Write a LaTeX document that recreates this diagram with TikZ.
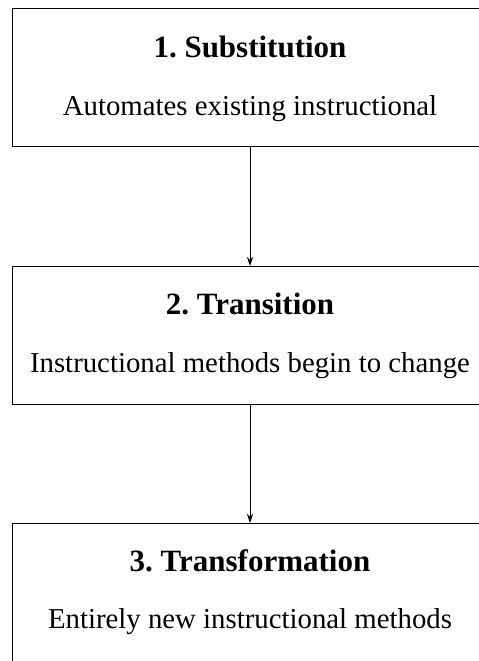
\documentclass[tikz,border=0pt]{standalone}
\usepackage{fontspec}
\setmainfont{Liberation Serif}
\usetikzlibrary{arrows.meta}
\frenchspacing

\tikzset{
  stagebox/.style={draw, line width=0.9pt, anchor=north west, minimum width=520pt, minimum height=138pt, inner sep=0pt},
  stagetitle/.style={anchor=base, inner sep=0pt, font=\fontsize{31}{36}\selectfont\bfseries},
  stagetext/.style={anchor=base, inner sep=0pt, font=\fontsize{28.8}{34}\selectfont},
  flow/.style={line width=0.9pt, -{Stealth[length=9pt, width=6pt]}}
}

\begin{document}
\begin{tikzpicture}[x=1pt, y=-1pt]
\useasboundingbox (0,0) rectangle (479,661);
\clip (0,0) rectangle (479,661);

\node[stagebox] (box1) at (12,8) {};
\node[stagebox] (box2) at (12,266) {};
\node[stagebox, minimum height=150pt] (box3) at (12,523) {};

\node[stagetitle] (title1) at (250,58) {1. Substitution};
\node[stagetext] (text1) at (250,115) {Automates existing instructional};

\node[stagetitle] (title2) at (250,314) {2. Transition};
\node[stagetext] (text2) at (250,372) {Instructional methods begin to change};

\node[stagetitle] (title3) at (250,571) {3. Transformation};
\node[stagetext] (text3) at (250,628) {Entirely new instructional methods};

\draw[flow] (box1.south -| title1) -- (box2.north -| title1);
\draw[flow] (box2.south -| title1) -- (box3.north -| title1);

\end{tikzpicture}
\end{document}
